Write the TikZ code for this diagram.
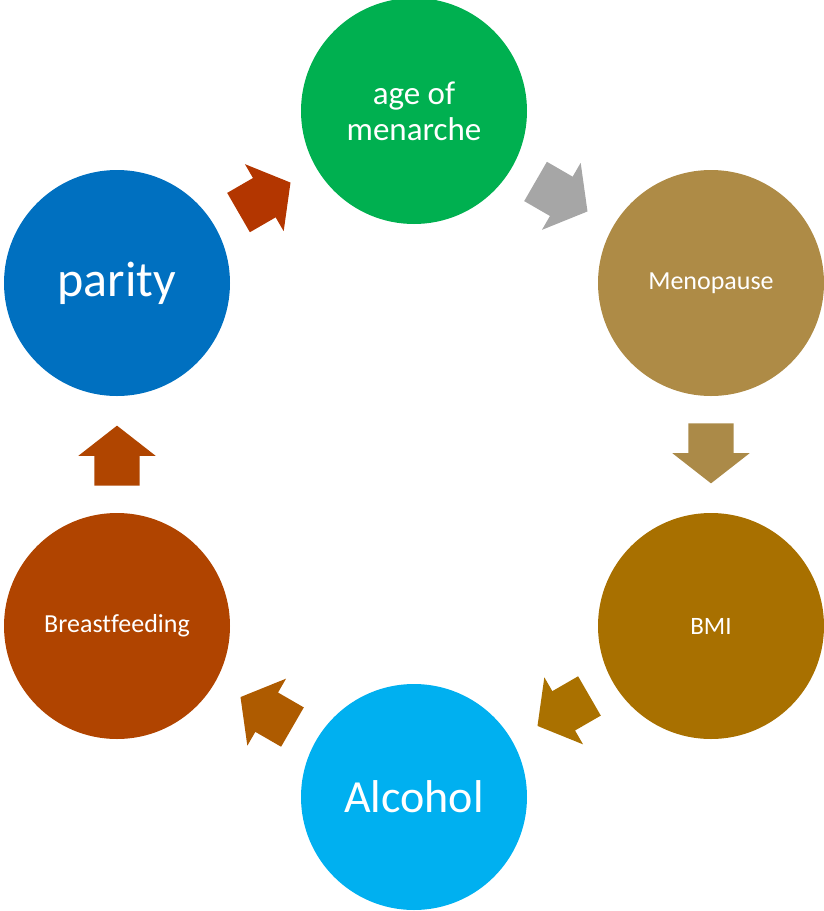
\documentclass[tikz,border=0pt]{standalone}
\usepackage{fontspec}
\setmainfont{Carlito}[Ligatures=NoCommon]
\usetikzlibrary{shapes.arrows,calc}
\definecolor{menarcheGreen}{HTML}{00B050}
\definecolor{menopauseTan}{HTML}{AE8B46}
\definecolor{bmiGold}{HTML}{A87000}
\definecolor{alcoholBlue}{HTML}{00B0F0}
\definecolor{breastRust}{HTML}{B04400}
\definecolor{parityBlue}{HTML}{0070C0}
\definecolor{arrowOne}{HTML}{B33600}
\definecolor{arrowTwo}{HTML}{A6A6A6}
\definecolor{arrowThree}{HTML}{AB8A48}
\definecolor{arrowFour}{HTML}{AA7100}
\definecolor{arrowFive}{HTML}{AE5B00}
\definecolor{arrowSix}{HTML}{B04500}
\begin{document}
\begin{tikzpicture}[x=1pt,y=1pt]
\tikzstyle{stage}=[circle,minimum size=226pt,inner sep=0pt,text=white,align=center]
\tikzstyle{turn}=[single arrow,draw=none,inner xsep=0pt,inner ysep=22.5pt,minimum height=60pt,single arrow head extend=16pt,single arrow tip angle=104]
\useasboundingbox (0,0) rectangle (824,-911);
\node [stage,fill=menarcheGreen,font=\fontsize{33}{36}\selectfont] (menarche) at (414,-111) {age of\\menarche};
\node [stage,fill=menopauseTan,font=\fontsize{26}{30}\selectfont] (menopause) at (711,-283) {Menopause};
\node [stage,fill=bmiGold,font=\fontsize{25}{30}\selectfont] (bmi) at (711,-626) {BMI};
\node [stage,fill=alcoholBlue,font=\fontsize{46}{52}\selectfont] (alcohol) at (414,-797) {Alcohol};
\node [stage,fill=breastRust,font=\fontsize{26}{30}\selectfont] (breast) at (117,-626) {Breastfeeding};
\node [stage,fill=parityBlue,font=\fontsize{50}{56}\selectfont] (parity) at (117,-283) {parity};
\node [turn,fill=arrowOne,rotate=30,xshift=-10pt] (toMenarche) at ($(parity)!0.5!(menarche)$) {};
\node [turn,fill=arrowTwo,rotate=-30,xshift=-10pt] (toMenopause) at ($(menarche)!0.5!(menopause)$) {};
\node [turn,fill=arrowThree,rotate=-90,xshift=-10pt] (toBmi) at ($(menopause)!0.5!(bmi)$) {};
\node [turn,fill=arrowFour,rotate=210,xshift=-10pt] (toAlcohol) at ($(bmi)!0.5!(alcohol)$) {};
\node [turn,fill=arrowFive,rotate=150,xshift=-10pt] (toBreast) at ($(alcohol)!0.5!(breast)$) {};
\node [turn,fill=arrowSix,rotate=90,xshift=-10pt] (toParity) at ($(breast)!0.5!(parity)$) {};
\end{tikzpicture}
\end{document}
